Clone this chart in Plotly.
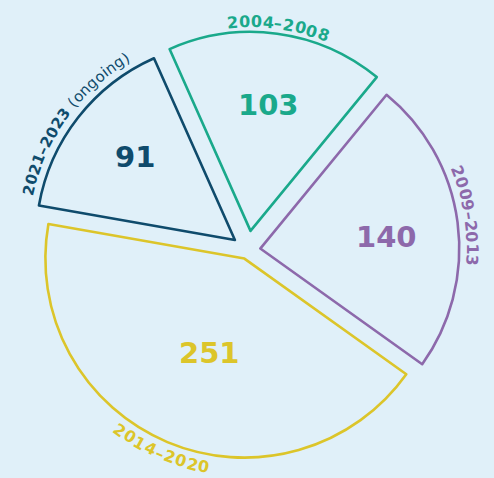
import math
import plotly.graph_objects as go

# ---- data ----
periods = ["2004–2008", "2009–2013", "2014–2020", "2021–2023"]
counts = [103, 140, 251, 91]
notes = ["", "", "", " (ongoing)"]

# ---- style ----
colors = ["#1aa98b", "#8d69ab", "#dcc52a", "#0f4b6c"]
BG = "#e0f0f9"
W, H = 494, 478
ROT = -24.0
pulls = [0.098, 0.0628, 0.0457, 0.0829]
dom_x = [0.05951, 0.94413]
dom_y = [0.01946, 0.93368]
num_r = [0.638, 0.635, 0.506, 0.653]     # radial position of the big numbers (fraction of r)
num_shift = [0.4, 2.5, -2.2, 1.8]        # degrees
lab_dir = ["cw", "cw", "ccw", "cw"]      # reading direction of curved labels
lab_r = [209, 212, 212, 212]
lab_size = [16, 16, 16, 15]
lab_sp = [0.8, 0.6, 0.8, 0.5]
lab_shift = [0, -1.5, 0.7, -2.0]         # degrees
FONT = "DejaVu Sans"

fig = go.Figure(go.Pie(
    labels=periods, values=counts, sort=False, direction="clockwise",
    rotation=ROT, pull=pulls,
    marker=dict(colors=["rgba(0,0,0,0)"] * len(counts),
                line=dict(color=colors, width=2.6)),
    textinfo="none", hoverinfo="label+value",
    domain=dict(x=dom_x, y=dom_y), showlegend=False,
))

# mirror plotly's pie geometry (pixels, y down)
rx = W * (dom_x[1] - dom_x[0]) / 2
ry = H * (dom_y[1] - dom_y[0]) / 2
R = min(rx, ry) / (1 + max(pulls))
CX = W * (dom_x[0] + dom_x[1]) / 2
CY = H * (1 - (dom_y[0] + dom_y[1]) / 2)

BOLD_W = {"–": 0.5, "-": 0.415, " ": 0.348}
REG_W = {" ": 0.318, "(": 0.390, ")": 0.390, "o": 0.612, "n": 0.634,
         "g": 0.635, "i": 0.278, "–": 0.5}


def cw(ch, bold):
    if ch.isdigit():
        return 0.696 if bold else 0.636
    return (BOLD_W if bold else REG_W).get(ch, 0.6)


def to_paper(px, py):
    return px / W, 1 - py / H


annotations = []
total = sum(counts)
cum = 0
for i, v in enumerate(counts):
    mid = math.radians(ROT + 360 * (cum + v / 2) / total)
    cum += v
    d = pulls[i] * R
    ax = CX + d * math.sin(mid)
    ay = CY - d * math.cos(mid)
    # big number
    nr = num_r[i] * R
    na = mid + math.radians(num_shift[i])
    x, y = to_paper(ax + nr * math.sin(na), ay - nr * math.cos(na))
    annotations.append(dict(x=x, y=y, xref="paper", yref="paper", showarrow=False,
                            text=f"<b>{v}</b>", xanchor="center", yanchor="middle",
                            font=dict(family=FONT, size=29, color=colors[i])))
    # curved label
    size = lab_size[i]
    sp = lab_sp[i]
    chars = [(c, True) for c in periods[i]] + [(c, False) for c in notes[i]]
    widths = [cw(c, b) * size for c, b in chars]
    tot = sum(widths) + sp * (len(widths) - 1)
    s = -tot / 2
    sign = 1 if lab_dir[i] == "cw" else -1
    rr = lab_r[i]
    lmid = mid + math.radians(lab_shift[i])
    for (c, b), w in zip(chars, widths):
        sc = s + w / 2
        s += w + sp
        if c == " ":
            continue
        a = lmid + sign * sc / rr
        px = ax + rr * math.sin(a)
        py = ay - rr * math.cos(a)
        ang = math.degrees(a) if sign == 1 else math.degrees(a) - 180
        ang = (ang + 180) % 360 - 180
        x, y = to_paper(px, py)
        annotations.append(dict(x=x, y=y, xref="paper", yref="paper", showarrow=False,
                                text=f"<b>{c}</b>" if b else c, textangle=ang,
                                xanchor="center", yanchor="middle",
                                font=dict(family=FONT, size=size, color=colors[i])))

fig.update_layout(
    width=W, height=H, margin=dict(l=0, r=0, t=0, b=0),
    paper_bgcolor=BG, plot_bgcolor=BG, annotations=annotations,
)
fig.write_html("out.html", config={"displayModeBar": False},
               post_script="document.body.style.margin='0';")
